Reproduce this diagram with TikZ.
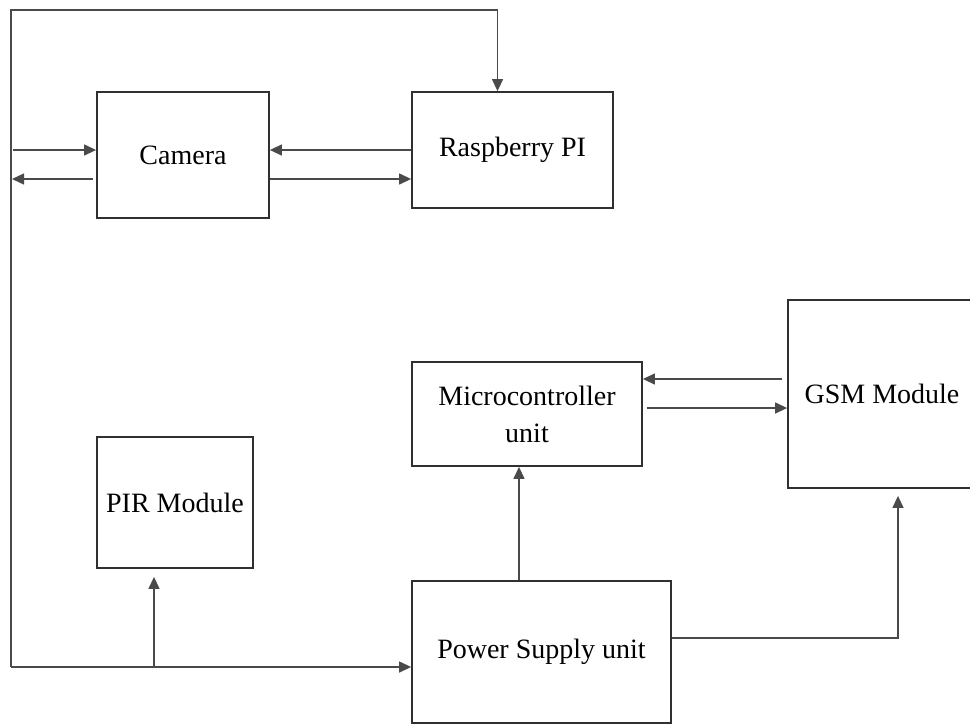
\documentclass[tikz,border=0pt]{standalone}
\usepackage{fontspec}
\setmainfont{Liberation Serif}
\usetikzlibrary{arrows.meta,calc}
\definecolor{boxline}{HTML}{303030}
\definecolor{wire}{HTML}{4A4A4A}
\begin{document}
\begin{tikzpicture}[x=0.5pt,y=-0.5pt,
    block/.style={draw=boxline,line width=0.9pt,inner sep=0pt,align=center,
      font=\fontsize{14}{18.5}\selectfont},
    arr/.style={draw=wire,line width=0.65pt,-{Triangle[length=6pt,width=5.5pt]}}]
            \useasboundingbox (0,0) rectangle (970,725);
            % Nodes
            \node[block,minimum width=86pt,minimum height=63pt] (cam) at (183,155) {Camera};
            \node[block,minimum width=100.5pt,minimum height=58pt] (rpi) at (512.5,150) {Raspberry PI};
            \node[block,minimum width=115pt,minimum height=52pt] (mcu) at (527,414) {Microcontroller\\unit};
            \node[block,minimum width=94pt,minimum height=94pt] (gsm) at (882,394) {GSM Module};
            \node[block,minimum width=78pt,minimum height=65.5pt] (pir) at (175,502.5) {PIR Module};
            \node[block,minimum width=129.5pt,minimum height=71pt] (pwr) at (541.5,652) {Power Supply unit};
            \coordinate (tl) at (11,10);
            \coordinate (bl) at (11,667);
            \coordinate (c1) at ($(cam.west)+(0,-5)$);
            \coordinate (c2) at ($(cam.west)+(0,24)$);
            \coordinate (r2) at ($(rpi.west)+(0,29)$);
            \coordinate (g1) at ($(gsm.west)+(0,-15)$);
            \coordinate (g2) at ($(gsm.west)+(0,14)$);
            \coordinate (p1) at ($(mcu.south)+(-8,0)$);
            \coordinate (q) at ($(pir.south)+(-21,0)$);
            % Edges
            \draw[arr] (bl) -- (tl) -| ($(rpi.north)+(-15,0)$);
            \draw[arr] (bl) -- (bl -| pwr.west);
            \draw[arr,shorten >=4pt] (q |- bl) -- (q);
            \draw[arr,shorten <=1pt] (c1 -| tl) -- (c1);
            \draw[arr,shorten >=0.5pt,shorten <=1.5pt] (c2) -- (c2 -| tl);
            \draw[arr] (rpi.west) -- (rpi.west -| cam.east);
            \draw[arr] (r2 -| cam.east) -- (r2);
            \draw[arr,shorten <=2.5pt] (g1) -- (g1 -| mcu.east);
            \draw[arr,shorten <=2pt] (g2 -| mcu.east) -- (g2);
            \draw[arr] (p1 |- pwr.north) -- (p1);
            \draw[arr,shorten >=3.5pt] ($(pwr.east)+(0,-14)$) -| ($(gsm.south)+(16,0)$);
        \end{tikzpicture}
\end{document}
